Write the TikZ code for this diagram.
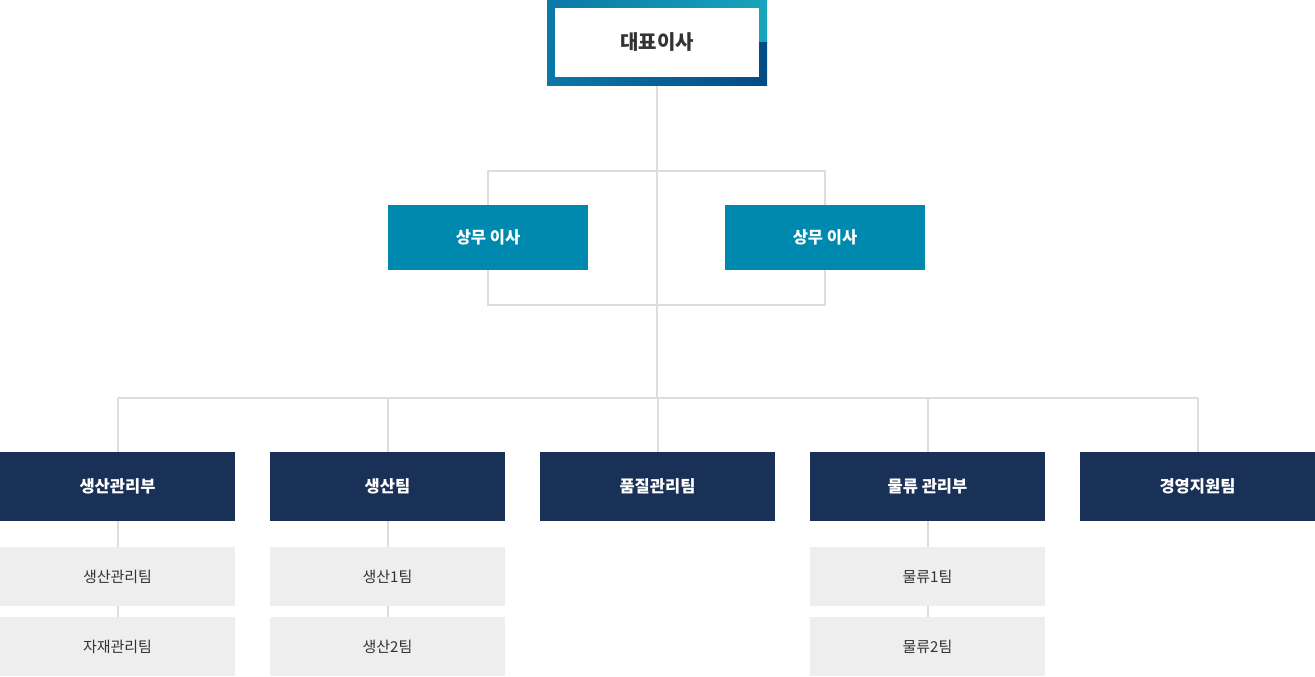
\documentclass[tikz,border=0pt]{standalone}
\usepackage{fontspec}
\setmainfont{Noto Sans CJK KR}
\usepackage{tikz}
\usetikzlibrary{positioning}
\usetikzlibrary{backgrounds}
\definecolor{lineg}{HTML}{E0DCD8}
\definecolor{ceoa}{HTML}{0B78A6}
\definecolor{ceob}{HTML}{18A4BC}
\definecolor{ceoc}{HTML}{034C86}
\definecolor{execc}{HTML}{0089AE}
\definecolor{deptc}{HTML}{1A3157}
\definecolor{subc}{HTML}{EEEEEE}
\definecolor{textc}{HTML}{333333}
\begin{document}
\begin{tikzpicture}[x=1pt,y=-1pt,line cap=rect,
  ceo/.style={fill=white,minimum width=204pt,minimum height=69pt,inner sep=0pt,text=textc,font=\fontsize{20}{24}\selectfont\bfseries},
  exec/.style={fill=execc,minimum width=200pt,minimum height=65pt,inner sep=0pt,text=white,font=\fontsize{16.5}{20}\selectfont\bfseries},
  dept/.style={fill=deptc,minimum width=235pt,minimum height=69pt,inner sep=0pt,text=white,font=\fontsize{16.5}{20}\selectfont\bfseries},
  sub/.style={fill=subc,minimum width=235pt,minimum height=59pt,inner sep=0pt,text=textc,font=\fontsize{15}{18}\selectfont},
  link/.style={draw=lineg,line width=2pt}]
\useasboundingbox (0,0) rectangle (1315,677);
\shade [left color=ceoa,right color=ceob] (547,0) rectangle (767,43);
\shade [left color=ceoa,right color=ceoc] (547,43) rectangle (767,86);
\node [ceo] (ceo) at (657,42.5) {대표이사};
\node [exec] (ex1) at (488,237.5) {상무 이사};
\node [exec] (ex2) at (825,237.5) {상무 이사};
\node [dept] (d1) at (117.5,486.5) {생산관리부};
\node [dept] (d2) at (387.5,486.5) {생산팀};
\node [dept] (d3) at (657.5,486.5) {품질관리팀};
\node [dept] (d4) at (927.5,486.5) {물류 관리부};
\node [dept] (d5) at (1197.5,486.5) {경영지원팀};
\node [sub] (s11) at (117.5,576.5) {생산관리팀};
\node [sub] (s12) at (117.5,646.5) {자재관리팀};
\node [sub] (s21) at (387.5,576.5) {생산1팀};
\node [sub] (s22) at (387.5,646.5) {생산2팀};
\node [sub] (s41) at (927.5,576.5) {물류1팀};
\node [sub] (s42) at (927.5,646.5) {물류2팀};
\coordinate (top) at (657,171);
\coordinate (mid) at (657,305);
\coordinate (bus) at (657,398);
\begin{scope}[on background layer]
\draw [link] (ceo.south) -- (bus);
\draw [link] (ex1.center |- top) rectangle (ex2.center |- mid);
\draw [link] (d1.center |- bus) -- (d5.center |- bus);
\foreach \d in {d1,d2,d3,d4,d5}
  \draw [link] (\d.center |- bus) -- (\d.north);
\draw [link] (d1) -- (s12);
\draw [link] (d2) -- (s22);
\draw [link] (d4) -- (s42);
\end{scope}
\end{tikzpicture}
\end{document}
